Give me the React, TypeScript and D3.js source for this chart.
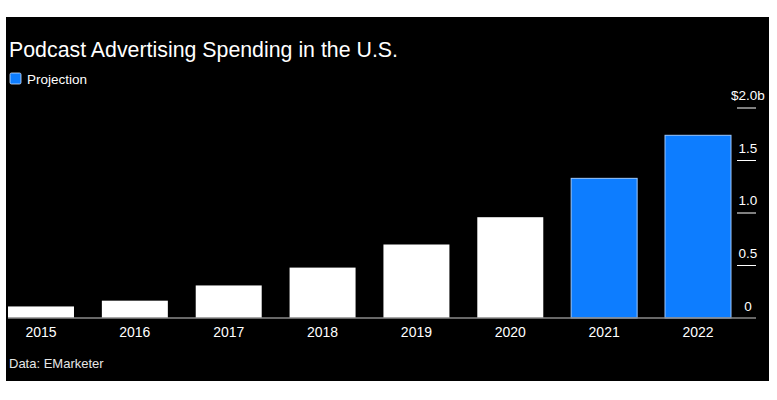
import React from 'react';
import * as d3 from 'd3';

const years = ['2015', '2016', '2017', '2018', '2019', '2020', '2021', '2022'];
const spending = [0.11, 0.165, 0.31, 0.48, 0.7, 0.96, 1.33, 1.74];
const projected = [false, false, false, false, false, false, true, true];
const yTicks = [0, 0.5, 1.0, 1.5, 2.0];
const yTickLabels = ['0', '0.5', '1.0', '1.5', '$2.0b'];

const W = 777;
const H = 400;
const font = '"Liberation Sans", Arial, sans-serif';
const blue = '#0d7dff';

export default function App() {
  const x = d3.scaleBand<string>()
    .domain(years)
    .range([8, 731])
    .paddingInner(0.297)
    .paddingOuter(0);

  const y = d3.scaleLinear()
    .domain([0, 2])
    .range([318, 108]);

  return (
    <svg
      width={W}
      height={H}
      style={{ position: 'absolute', left: 0, top: 0, background: '#fff' }}
      fontFamily={font}
    >
      <rect x={6} y={17} width={763} height={364} fill="#000" />

      <text x={9} y={57} fill="#fff" fontSize={21.5} textLength={389} lengthAdjust="spacingAndGlyphs">
        Podcast Advertising Spending in the U.S.
      </text>

      {/* legend */}
      <rect x={10} y={73} width={11} height={11} fill={blue} stroke="#cfe3ff" strokeWidth={0.8} rx={1.5} />
      <text x={27} y={84} fill="#fff" fontSize={13.5}>Projection</text>

      {/* bars */}
      {years.map((yr, i) => (
        <rect
          key={yr}
          x={x(yr)}
          y={y(spending[i])}
          width={x.bandwidth()}
          height={y(0) - y(spending[i])}
          fill={projected[i] ? blue : '#fff'}
          stroke={projected[i] ? '#9cc8ff' : 'none'}
          strokeWidth={projected[i] ? 1 : 0}
        />
      ))}

      {/* baseline */}
      <line x1={8} x2={756} y1={y(0)} y2={y(0)} stroke="#8a8a8a" strokeWidth={1.5} />

      {/* x labels */}
      {years.map((yr) => (
        <text
          key={yr}
          x={(x(yr) || 0) + x.bandwidth() / 2}
          y={337}
          fill="#fff"
          fontSize={14}
          textAnchor="middle"
        >
          {yr}
        </text>
      ))}

      {/* y ticks on the right */}
      {yTicks.map((t, i) => (
        <g key={t}>
          {t !== 0 && (
            <line x1={737} x2={756} y1={y(t)} y2={y(t)} stroke="#fff" strokeWidth={1} />
          )}
          <text
            x={748}
            y={y(t) - (t === 0 ? 7 : 8)}
            fill="#fff"
            fontSize={13.5}
            textAnchor="middle"
          >
            {yTickLabels[i]}
          </text>
        </g>
      ))}

      <text x={9} y={368} fill="#e6e6e6" fontSize={13}>Data: EMarketer</text>
    </svg>
  );
}
